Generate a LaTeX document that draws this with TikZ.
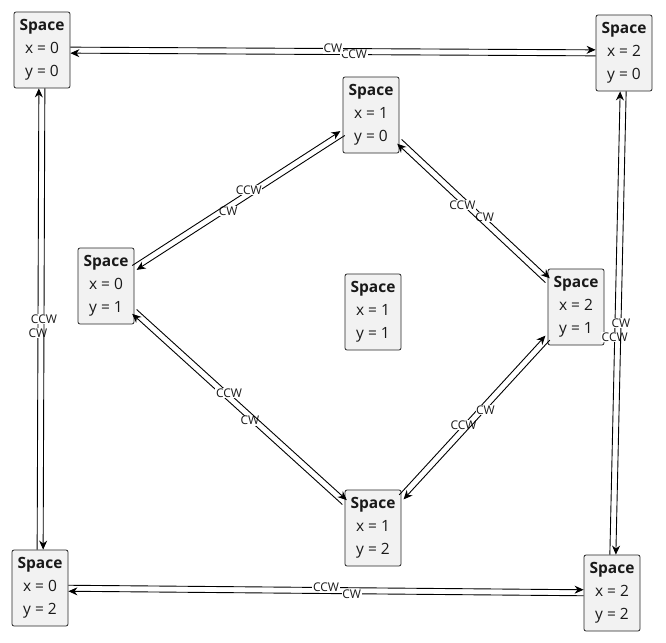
\documentclass[tikz,border=0pt]{standalone}
\usepackage{fontspec}
\setmainfont{Open Sans}
\usetikzlibrary{arrows.meta}
\definecolor{boxfill}{HTML}{F2F2F2}
\begin{document}
\begin{tikzpicture}[x=1pt,y=-1pt,
  spacebox/.style={draw=black!85, fill=boxfill, rounded corners=2pt, line width=0.8pt,
    minimum width=56pt, minimum height=76pt, inner sep=1pt, align=center,
    font=\fontsize{15.5}{23}\selectfont, text=black!90},
  link/.style={line width=0.9pt, -{Stealth[length=9pt,width=8pt]}},
  lbl/.style={fill=white, inner sep=0.6pt, font=\fontsize{12}{12}\selectfont, text=black!90}
]
\useasboundingbox (0,0) rectangle (666,642);

\node[spacebox] (n00) at (42,50)   {\textbf{Space}\\x = 0\\y = 0};
\node[spacebox] (n20) at (624,53)  {\textbf{Space}\\x = 2\\y = 0};
\node[spacebox] (n10) at (371,115) {\textbf{Space}\\x = 1\\y = 0};
\node[spacebox] (n01) at (106,286) {\textbf{Space}\\x = 0\\y = 1};
\node[spacebox] (n11) at (373,312) {\textbf{Space}\\x = 1\\y = 1};
\node[spacebox] (n21) at (576,307) {\textbf{Space}\\x = 2\\y = 1};
\node[spacebox] (n12) at (373,528) {\textbf{Space}\\x = 1\\y = 2};
\node[spacebox] (n02) at (40,588)  {\textbf{Space}\\x = 0\\y = 2};
\node[spacebox] (n22) at (612,593) {\textbf{Space}\\x = 2\\y = 2};

% outer top
\draw[link, transform canvas={shift={(0,3)}}]  (n20) -- node[lbl, pos=0.46]{CCW} (n00);
\draw[link, transform canvas={shift={(0,-3)}}] (n00) -- node[lbl, pos=0.5]{CW} (n20);
% outer right
\draw[link, transform canvas={shift={(-3,0)}}] (n22) -- node[lbl, pos=0.47]{CCW} (n20);
\draw[link, transform canvas={shift={(3,0)}}]  (n20) -- node[lbl, pos=0.5]{CW} (n22);
% outer bottom
\draw[link, transform canvas={shift={(0,-3)}}] (n02) -- node[lbl, pos=0.5]{CCW} (n22);
\draw[link, transform canvas={shift={(0,3)}}]  (n22) -- node[lbl, pos=0.45]{CW} (n02);
% outer left
\draw[link, transform canvas={shift={(-3,0)}}] (n02) -- node[lbl, pos=0.47]{CW} (n00);
\draw[link, transform canvas={shift={(3,0)}}]  (n00) -- node[lbl, pos=0.5]{CCW} (n02);

% inner top-right
\draw[link, transform canvas={shift={(2.2,-2.2)}}] (n10) -- node[lbl, pos=0.56]{CW} (n21);
\draw[link, transform canvas={shift={(-2.2,2.2)}}] (n21) -- node[lbl, pos=0.56]{CCW} (n10);
% inner bottom-right
\draw[link, transform canvas={shift={(-2.2,-2.2)}}] (n12) -- node[lbl, pos=0.44]{CCW} (n21);
\draw[link, transform canvas={shift={(2.2,2.2)}}]   (n21) -- node[lbl, pos=0.44]{CW} (n12);
% inner bottom-left
\draw[link, transform canvas={shift={(-2.2,2.2)}}] (n12) -- node[lbl, pos=0.44]{CW} (n01);
\draw[link, transform canvas={shift={(2.2,-2.2)}}] (n01) -- node[lbl, pos=0.44]{CCW} (n12);
% inner top-left
\draw[link, transform canvas={shift={(2.2,2.2)}}]   (n10) -- node[lbl, pos=0.56]{CW} (n01);
\draw[link, transform canvas={shift={(-2.2,-2.2)}}] (n01) -- node[lbl, pos=0.56]{CCW} (n10);
\end{tikzpicture}
\end{document}
